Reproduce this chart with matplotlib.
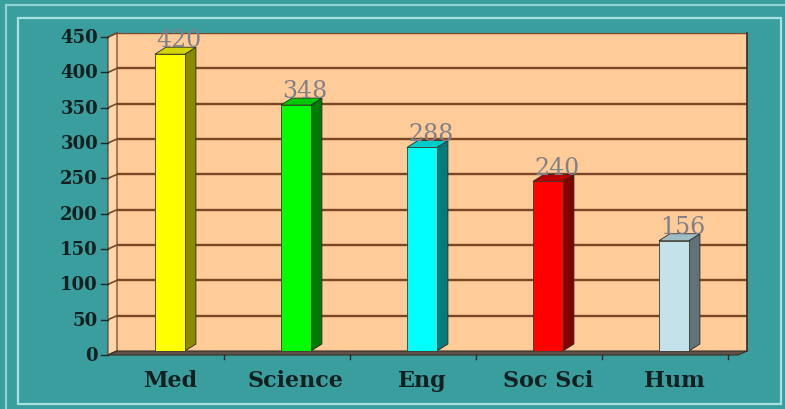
import matplotlib.pyplot as plt
import matplotlib.patches as patches
from matplotlib.transforms import offset_copy

categories = ['Med', 'Science', 'Eng', 'Soc Sci', 'Hum']
values = [420, 348, 288, 240, 156]
front_colors = ['#FFFF00', '#00FF00', '#00FFFF', '#FF0000', '#C4E2EA']
side_colors = ['#8A8A00', '#007A00', '#007C7C', '#800000', '#5F7378']
top_colors = ['#D4D400', '#00C800', '#00CCCC', '#B80000', '#A0BCC4']
yticks = [0, 50, 100, 150, 200, 250, 300, 350, 400, 450]

W, H = 785, 410
bg = '#3A9E9E'
wall = '#FFCC99'
grid_c = '#7A4626'

fig = plt.figure(figsize=(W / 100, H / 100), dpi=100, facecolor=bg)

# frame lines
fig.patches.append(patches.Rectangle((6 / W, -10 / H), 800 / W, (H - 6 + 10) / H,
                                     transform=fig.transFigure, fill=False,
                                     edgecolor='#8FD3D3', lw=1.6))
fig.patches.append(patches.Rectangle((18 / W, 5 / H), 763 / W, (H - 19 - 5) / H,
                                     transform=fig.transFigure, fill=False,
                                     edgecolor='#A8E0E0', lw=1.6))

ax = fig.add_axes([117 / W, 58 / H, 630 / W, 318 / H])
ax.set_facecolor(wall)
ax.set_xlim(-0.42, 4.58)
ax.set_ylim(0, 450)

# px -> data units
px_x = 5.0 / 630
px_y = 450 / 318

# back wall grid
for v in yticks[1:]:
    ax.axhline(v, color=grid_c, lw=1.7, zorder=1)

# left side wall
wx, wy = -9 * px_x, -4 * px_y
x0 = ax.get_xlim()[0]
ax.add_patch(patches.Polygon([(x0, 0), (x0, 450), (x0 + wx, 450 + wy), (x0 + wx, wy)],
                             closed=True, facecolor='#FFD6AC', edgecolor='#5A3A22',
                             lw=0.8, clip_on=False, zorder=2))
for v in yticks:
    ax.plot([x0 + wx, x0], [v + wy, v], color=grid_c, lw=1.2, clip_on=False, zorder=2)
    # tick mark
    ax.plot([x0 + wx - 7 * px_x, x0 + wx], [v + wy, v + wy], color='#1A2A2A', lw=1.0,
            clip_on=False, zorder=2)

# floor
x1 = ax.get_xlim()[1]
ax.add_patch(patches.Polygon([(x0, 0), (x1, 0), (x1 + wx, wy), (x0 + wx, wy)],
                             closed=True, facecolor='#5E5249', edgecolor='#3A302A',
                             lw=0.8, clip_on=False, zorder=2))
for b in [0.5, 1.5, 2.5, 3.5, 4.5]:
    ax.plot([b + wx, b + wx], [wy, wy - 4 * px_y], color='#1A2A2A', lw=1.0,
            clip_on=False, zorder=2)

# 3D bars
bw = 30 * px_x
dx, dy = 11 * px_x, 7 * px_y
for i, v in enumerate(values):
    xl, xr = i - bw / 2, i + bw / 2
    ax.add_patch(patches.Polygon([(xr, 0), (xr + dx, dy), (xr + dx, v + dy), (xr, v)],
                                 closed=True, facecolor=side_colors[i],
                                 edgecolor='#2A2A2A', lw=0.6, zorder=4))
    ax.add_patch(patches.Polygon([(xl, v), (xr, v), (xr + dx, v + dy), (xl + dx, v + dy)],
                                 closed=True, facecolor=top_colors[i],
                                 edgecolor='#2A2A2A', lw=0.6, zorder=4))
ax.bar(range(len(values)), values, width=bw, color=front_colors,
       edgecolor='#3A3A2A', lw=0.6, zorder=5)

for i, v in enumerate(values):
    ax.text(i + dx * 0.8, v + dy + 1, str(v), ha='center', va='baseline',
            fontsize=17, family='DejaVu Serif', color='#808088', zorder=6)

# axes decoration
for s in ['top', 'left', 'bottom']:
    ax.spines[s].set_visible(False)
ax.spines['right'].set_color('#3A2A20')
ax.spines['right'].set_linewidth(1.2)

ax.set_yticks(yticks)
ax.set_yticklabels([])
ax.tick_params(axis='y', length=0)
lab_tr = offset_copy(ax.get_yaxis_transform(), fig=fig, x=-19, y=-4, units='dots')
for v in yticks:
    ax.text(0, v, str(v), transform=lab_tr, ha='right', va='center',
            fontsize=13, family='DejaVu Serif', fontweight='bold', color='#14201F')

ax.set_xticks(range(len(categories)))
ax.set_xticklabels(categories, fontsize=16, family='DejaVu Serif',
                   fontweight='bold', color='#14201F')
ax.tick_params(axis='x', length=0, pad=13)

fig.savefig('out.png', dpi=100, facecolor=bg)
